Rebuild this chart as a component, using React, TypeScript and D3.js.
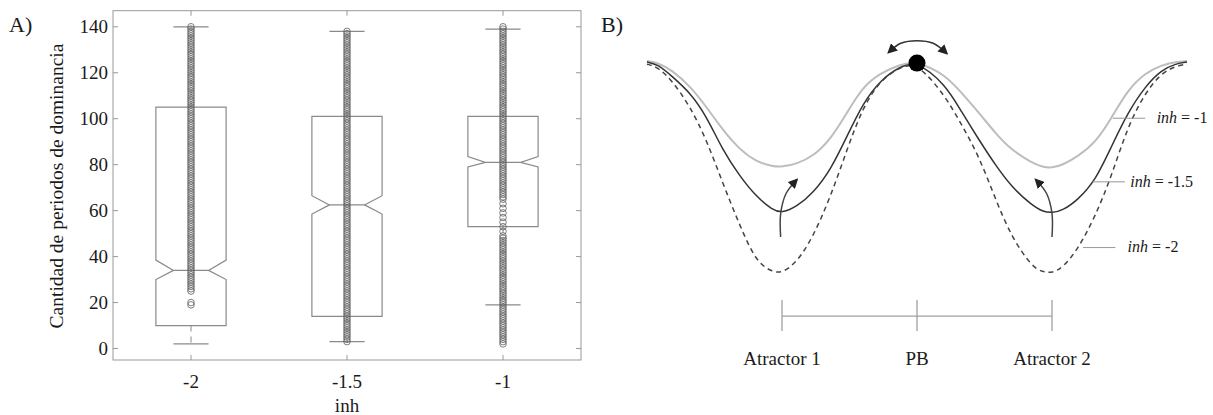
import React from "react";
import * as d3 from "d3";

// ---------- Panel A data ----------
const categories = ["-2", "-1.5", "-1"];
const q1 = [10, 14, 53];
const medians = [34, 62.5, 81];
const q3 = [105, 101, 101];
const notchLo = [30, 58.5, 79];
const notchHi = [38.5, 66.5, 83.5];
const whiskerLo = [2, 3, 19];
const whiskerHi = [140, 138, 139];
// runs of observed integer values (one circle per value) and isolated values
const pointRuns = [[[29, 140]], [[3, 138]], [[2, 49], [66, 140]]];
const pointSingles = [[19, 20, 25, 26, 27, 28], [], [51, 53, 55, 57, 59, 61, 63, 65]];
const yTicks = [0, 20, 40, 60, 80, 100, 120, 140];

// ---------- Panel B data ----------
const curveU = [0, 0.08, 0.19, 0.32, 0.44, 0.56, 0.69, 0.81, 0.93, 1.0, 1.11, 1.23, 1.36, 1.48, 1.6, 1.73, 1.87, 2.0, 2.21, 2.33, 2.46, 2.58, 2.7, 2.85, 2.93, 3.0, 3.08, 3.19, 3.32, 3.44, 3.56, 3.69, 3.81, 3.92, 4.0];
const inhM1 = [0, -0.8, -4.5, -12, -21.6, -32.5, -42, -47.5, -49.7, -50, -48.5, -45, -37, -24.5, -12, -5.7, -1.8, 0, -6.5, -15, -24.5, -34, -42, -48, -50, -50.5, -49, -45, -38.7, -27, -13.7, -5.7, -1.9, -0.4, 0];
const inhM15 = [-0.5, -1.5, -7.5, -15, -26, -42, -54.6, -64, -70.3, -71.7, -68.7, -62.3, -51.4, -35.7, -19.8, -9, -2.7, 0, -11, -24, -37.3, -49, -59.4, -68, -71, -71.7, -70.5, -65.6, -56.6, -40.4, -24.5, -12, -4.2, -1.2, -0.5];
const inhM2 = [-1.5, -2.8, -9.5, -21.6, -37, -57.5, -78, -95, -99.5, -100, -95, -83, -64, -42, -21.6, -9, -3, -0.5, -16.5, -30, -45, -65, -83, -97, -99.5, -100, -97.5, -89, -73.4, -54.4, -31, -15, -5.7, -2.3, -1.5];
const curveNames = ["-1", "-1.5", "-2"];
const leaderX = [[3.45, 3.69], [3.30, 3.54], [3.23, 3.47]];
const leaderV = [-27, -57, -88];
const labelX = [3.775, 3.58, 3.56];
const sites = ["Atractor 1", "PB", "Atractor 2"];
const siteU = [1, 2, 3];
const arrowLeft: [number, number][] = [[0.99, -83], [0.99, -72], [1.03, -62.5], [1.11, -56]];
const arrowRight: [number, number][] = [[3.0, -83], [3.0, -72], [2.96, -62.5], [2.88, -56]];
const swingArrow: [number, number][] = [[1.79, 4.1], [1.88, 8.4], [2.0, 9.6], [2.12, 8.4], [2.22, 3.6]];
const ballPos: [number, number] = [2.0, -1];

const FONT = "'Liberation Serif', 'Times New Roman', serif";
const TXT = "#1a1a1a";

export default function App() {
  // Panel A scales
  const xA = d3.scalePoint<string>().domain(categories).range([113, 581]).padding(0.5);
  const yA = d3.scaleLinear().domain([-5, 147]).range([360, 10.7]);
  const step = xA.step();
  const hw = step * 0.225;

  // Panel B scales
  const xB = d3.scaleLinear().domain([0, 4]).range([647, 1187]);
  const yB = d3.scaleLinear().domain([0, -100]).range([61, 273]);
  const line = d3
    .line<[number, number]>()
    .x((d) => xB(d[0]))
    .y((d) => yB(d[1]))
    .curve(d3.curveBasis);
  const arrowLine = d3
    .line<[number, number]>()
    .x((d) => xB(d[0]))
    .y((d) => yB(d[1]))
    .curve(d3.curveCatmullRom.alpha(0.5));
  const series = [inhM1, inhM15, inhM2].map((vals) => curveU.map((u, i) => [u, vals[i]] as [number, number]));
  const curveStyle = [
    { stroke: "#bdbdbd", width: 2, dash: undefined },
    { stroke: "#333", width: 1.5, dash: undefined },
    { stroke: "#444", width: 1.5, dash: "5,4" },
  ];

  const axisLevel = -120.3;
  const tickTop = -112.7;
  const tickBot = -127.4;
  const siteLabelV = -143.4;

  return (
    <svg
      width={1213}
      height={415}
      style={{ position: "absolute", left: 0, top: 0, background: "#fff" }}
      fontFamily={FONT}
    >
      <defs>
        <marker id="ah" viewBox="0 0 10 10" refX="8" refY="5" markerWidth="10" markerHeight="10" markerUnits="userSpaceOnUse" orient="auto-start-reverse">
          <path d="M0,0 L10,5 L0,10 z" fill="#222" />
        </marker>
      </defs>
      <rect x={0} y={0} width={1213} height={415} fill="#fff" />

      {/* ---------- Panel A ---------- */}
      <text x={9} y={32} fontSize={22} fill={TXT}>A)</text>
      <rect x={113} y={10.7} width={468} height={349.3} fill="none" stroke="#999" strokeWidth={1} />
      {yTicks.map((t) => (
        <g key={"yt" + t}>
          <line x1={113} x2={118} y1={yA(t)} y2={yA(t)} stroke="#999" />
          <line x1={581} x2={576} y1={yA(t)} y2={yA(t)} stroke="#999" />
          <text x={108} y={yA(t)} dy="0.33em" textAnchor="end" fontSize={19} fill={TXT}>{t}</text>
        </g>
      ))}
      {categories.map((c) => (
        <g key={"xt" + c}>
          <line x1={xA(c)} x2={xA(c)} y1={360} y2={355} stroke="#999" />
          <line x1={xA(c)} x2={xA(c)} y1={10.7} y2={15.7} stroke="#999" />
          <text x={xA(c)} y={388} textAnchor="middle" fontSize={19} fill={TXT}>{c}</text>
        </g>
      ))}
      <text x={347} y={412} textAnchor="middle" fontSize={19} fill={TXT}>inh</text>
      <text transform={`translate(63,186) rotate(-90)`} textAnchor="middle" fontSize={19.5} fill={TXT}>
        Cantidad de periodos de dominancia
      </text>

      {categories.map((c, i) => {
        const x = xA(c)!;
        const pts: [number, number][] = [
          [x - hw, yA(q1[i])],
          [x - hw, yA(notchLo[i])],
          [x - hw / 2, yA(medians[i])],
          [x - hw, yA(notchHi[i])],
          [x - hw, yA(q3[i])],
          [x + hw, yA(q3[i])],
          [x + hw, yA(notchHi[i])],
          [x + hw / 2, yA(medians[i])],
          [x + hw, yA(notchLo[i])],
          [x + hw, yA(q1[i])],
        ];
        const values: number[] = [];
        pointRuns[i].forEach(([a, b]) => d3.range(a, b + 1).forEach((v) => values.push(v)));
        pointSingles[i].forEach((v) => values.push(v));
        return (
          <g key={"box" + c}>
            <line x1={x} x2={x} y1={yA(q3[i])} y2={yA(whiskerHi[i])} stroke="#8a8a8a" strokeDasharray="6,5" />
            <line x1={x} x2={x} y1={yA(q1[i])} y2={yA(whiskerLo[i])} stroke="#8a8a8a" strokeDasharray="6,5" />
            <line x1={x - hw / 2} x2={x + hw / 2} y1={yA(whiskerHi[i])} y2={yA(whiskerHi[i])} stroke="#8a8a8a" strokeWidth={1.2} />
            <line x1={x - hw / 2} x2={x + hw / 2} y1={yA(whiskerLo[i])} y2={yA(whiskerLo[i])} stroke="#8a8a8a" strokeWidth={1.2} />
            <path d={"M" + pts.map((p) => p.join(",")).join("L") + "Z"} fill="none" stroke="#8a8a8a" strokeWidth={1.2} />
            <line x1={x - hw / 2} x2={x + hw / 2} y1={yA(medians[i])} y2={yA(medians[i])} stroke="#8a8a8a" strokeWidth={1.2} />
            {values.map((v, k) => (
              <circle key={k} cx={x} cy={yA(v)} r={3.3} fill="none" stroke="#606060" strokeWidth={0.8} />
            ))}
          </g>
        );
      })}

      {/* ---------- Panel B ---------- */}
      <text x={601} y={32} fontSize={22} fill={TXT}>B)</text>
      {series.map((s, i) => (
        <path
          key={"c" + i}
          d={line(s)!}
          fill="none"
          stroke={curveStyle[i].stroke}
          strokeWidth={curveStyle[i].width}
          strokeDasharray={curveStyle[i].dash}
        />
      ))}
      {curveNames.map((n, i) => (
        <g key={"lab" + n}>
          <line x1={xB(leaderX[i][0])} x2={xB(leaderX[i][1])} y1={yB(leaderV[i])} y2={yB(leaderV[i])} stroke="#999" strokeWidth={1} />
          <text x={xB(labelX[i])} y={yB(leaderV[i]) + 4.8} fontSize={16} fill={TXT}>
            <tspan fontStyle="italic">inh</tspan>
            <tspan> = {n}</tspan>
          </text>
        </g>
      ))}
      <path d={arrowLine(arrowLeft)!} fill="none" stroke="#444" strokeWidth={1.5} markerEnd="url(#ah)" />
      <path d={arrowLine(arrowRight)!} fill="none" stroke="#444" strokeWidth={1.5} markerEnd="url(#ah)" />
      <path d={arrowLine(swingArrow)!} fill="none" stroke="#333" strokeWidth={1.5} markerStart="url(#ah)" markerEnd="url(#ah)" />
      <circle cx={xB(ballPos[0])} cy={yB(ballPos[1])} r={8.5} fill="#000" />

      <line x1={xB(siteU[0])} x2={xB(siteU[2])} y1={yB(axisLevel)} y2={yB(axisLevel)} stroke="#a0a0a0" strokeWidth={1.3} />
      {sites.map((s, i) => (
        <g key={"site" + s}>
          <line x1={xB(siteU[i])} x2={xB(siteU[i])} y1={yB(tickTop)} y2={yB(tickBot)} stroke="#a0a0a0" strokeWidth={1.3} />
          <text x={xB(siteU[i])} y={yB(siteLabelV)} textAnchor="middle" fontSize={19} fill={TXT}>{s}</text>
        </g>
      ))}
    </svg>
  );
}
